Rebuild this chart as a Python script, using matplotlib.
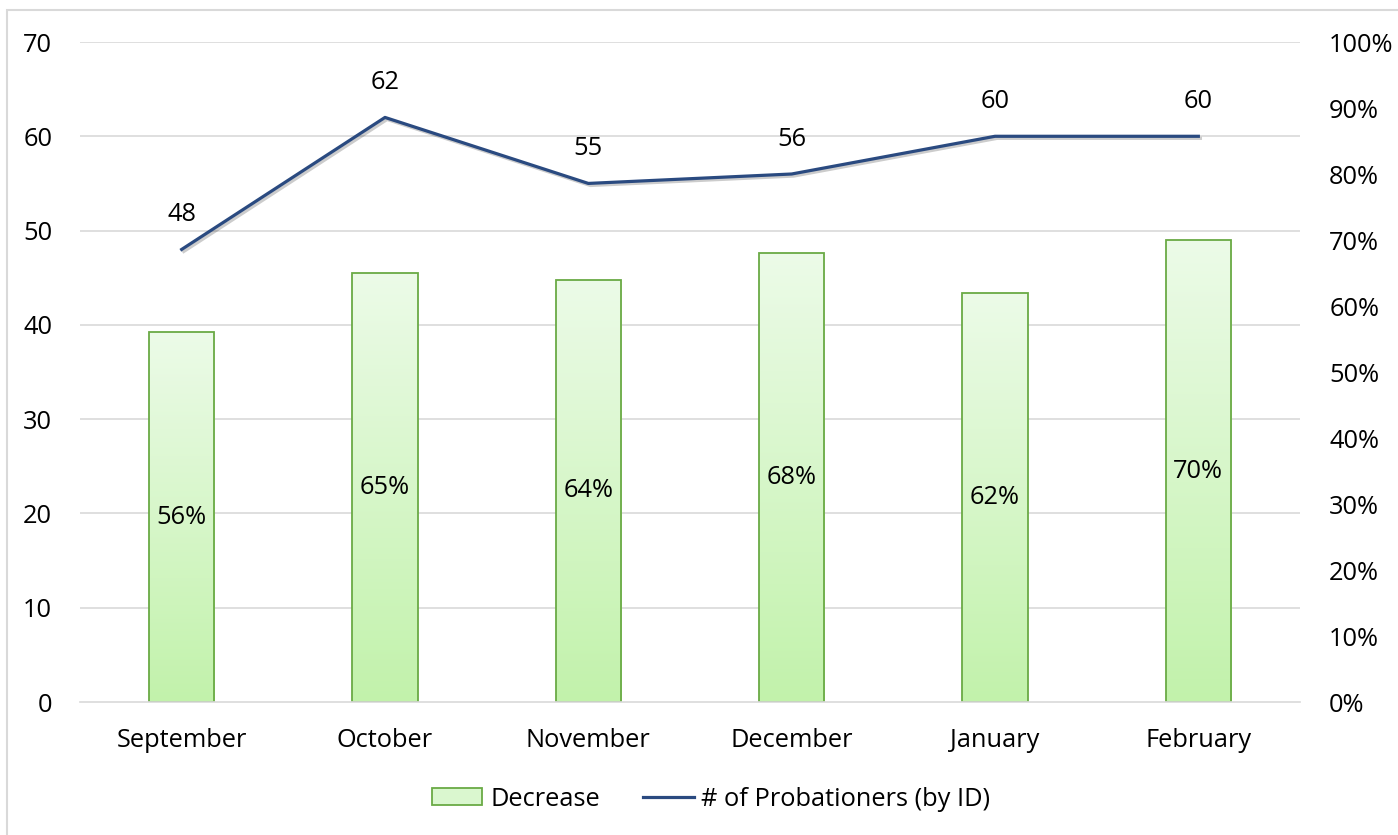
import matplotlib.pyplot as plt
import matplotlib.patheffects as pe
import numpy as np
from matplotlib.patches import Rectangle
from matplotlib.lines import Line2D
from matplotlib.colors import LinearSegmentedColormap

plt.rcParams['font.family'] = ['Open Sans', 'DejaVu Sans']

months = ['September', 'October', 'November', 'December', 'January', 'February']
probationers = [48, 62, 55, 56, 60, 60]
decrease = [0.56, 0.65, 0.64, 0.68, 0.62, 0.70]

line_color = '#2a4a80'
fs = 18.3

fig = plt.figure(figsize=(13.98, 8.35), dpi=100)
ax = fig.add_axes([80/1398, 1 - 702/835, 1220/1398, 660/835])
ax2 = ax.twinx()

x = np.arange(len(months))

# bars (percent axis) with vertical gradient fill
bars = ax2.bar(x, decrease, width=0.32, color='none', edgecolor='#6aaa45', linewidth=1.3, zorder=3)
cmap = LinearSegmentedColormap.from_list('g', ['#c2f2ab', '#ecfbe8'])
grad = np.linspace(0, 1, 256).reshape(-1, 1)
for b in bars:
    x0, w, h = b.get_x(), b.get_width(), b.get_height()
    im = ax2.imshow(grad, extent=[x0, x0 + w, 0, h], origin='lower', cmap=cmap, aspect='auto', zorder=2)
    im.set_clip_path(b)
    ax2.text(x0 + w / 2, h / 2, f'{round(h*100)}%', ha='center', va='center', fontsize=fs, zorder=5)

ax2.set_ylim(0, 1)
pct = np.arange(0, 1.01, 0.1)
ax2.set_yticks(pct)
ax2.set_yticklabels([f'{int(round(v*100))}%' for v in pct])
ax2.set_xlim(-0.5, 5.5)
for v in range(10, 71, 10):
    ax2.axhline(v / 70, color='#d9d9d9', linewidth=1.2, zorder=1)

# line (count axis) on top
ax.set_zorder(ax2.get_zorder() + 1)
ax.patch.set_visible(False)
ax.plot(x, probationers, color=line_color, linewidth=2.3, zorder=4,
        path_effects=[pe.SimpleLineShadow(offset=(1.5, -1.5), alpha=0.2, shadow_color='black'), pe.Normal()])
for xi, v in zip(x, probationers):
    ax.annotate(str(v), (xi, v), xytext=(0, 16), textcoords='offset points', ha='center', va='bottom', fontsize=fs)

ax.set_ylim(0, 70)
ax.set_yticks(range(0, 71, 10))
ax.set_xlim(-0.5, 5.5)
ax.set_xticks(x)
ax.set_xticklabels(months)

for a in (ax, ax2):
    for s in a.spines.values():
        s.set_visible(False)
    a.tick_params(length=0, labelsize=fs)
ax.tick_params(axis='y', pad=20)
ax.tick_params(axis='x', pad=19)
ax2.tick_params(axis='y', pad=21)
ax.spines['bottom'].set_visible(True)
ax.spines['bottom'].set_color('#d9d9d9')
ax.spines['bottom'].set_linewidth(1.2)

handles = [Rectangle((0, 0), 1, 1, facecolor='#daf7cf', edgecolor='#6aaa45', linewidth=1.3),
           Line2D([0], [0], color=line_color, linewidth=2.3)]
fig.legend(handles, ['Decrease', '# of Probationers (by ID)'], loc='center', bbox_to_anchor=(711/1398, 1 - 799/835),
           ncol=2, frameon=False, fontsize=fs, handlelength=2.0, handleheight=0.63,
           handletextpad=0.3, columnspacing=1.7)

fig.patches.append(Rectangle((7/1398, -0.1), 1.2, 1 - 10/835 + 0.1, transform=fig.transFigure,
                             fill=False, edgecolor='#d9d9d9', linewidth=1.5, zorder=0))

fig.savefig('out.png', dpi=100)
